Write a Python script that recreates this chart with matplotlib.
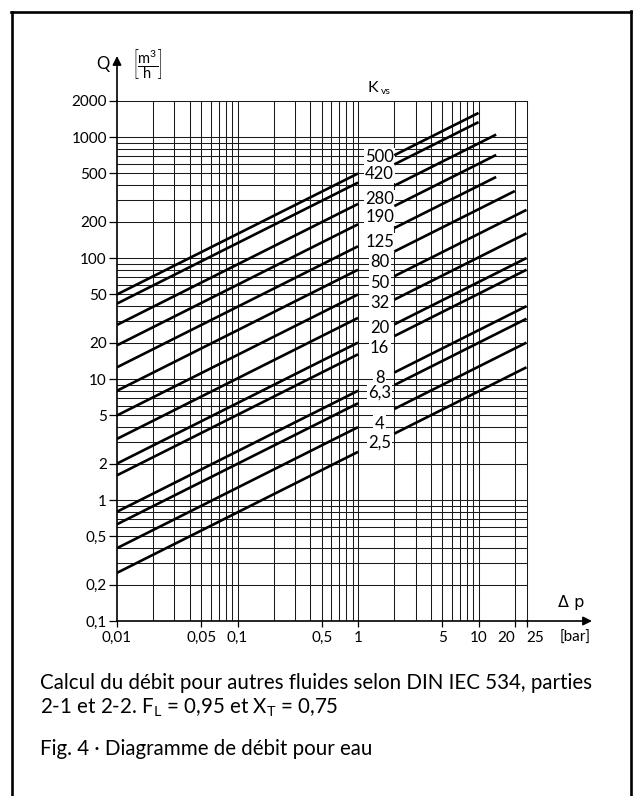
import numpy as np
import matplotlib
matplotlib.use('Agg')
import matplotlib.pyplot as plt
from matplotlib.lines import Line2D

plt.rcParams['font.family'] = ['Lato', 'DejaVu Sans']
plt.rcParams['mathtext.fontset'] = 'custom'
plt.rcParams['mathtext.rm'] = 'Lato'
plt.rcParams['mathtext.it'] = 'Lato'

# ---- data ----
kvs = [500, 420, 280, 190, 125, 80, 50, 32, 20, 16, 8, 6.3, 4, 2.5]
kvs_labels = ['500', '420', '280', '190', '125', '80', '50', '32', '20', '16',
              '8', '6,3', '4', '2,5']
left_dp = [0.01, 1.0]           # left segment range of every line
right_dp_start = 2.0            # right segment start
right_dp_end = [10, 10, 14, 14, 14, 20, 25, 25, 25, 25, 25, 25, 25, 25]
label_q = [684, 494, 307, 218, 135, 92.7, 62, 42.5, 26.4, 18, 10.2, 7.66, 4.25, 2.96]
label_dp = 1.51

xticks = [0.01, 0.05, 0.1, 0.5, 1, 5, 10, 20, 25]
xticklabels = ['0,01', '0,05', '0,1', '0,5', '1', '5', '10', '20', '25']
yticks = [0.1, 0.2, 0.5, 1, 2, 5, 10, 20, 50, 100, 200, 500, 1000, 2000]
yticklabels = ['0,1', '0,2', '0,5', '1', '2', '5', '10', '20', '50', '100',
               '200', '500', '1000', '2000']

caption1 = 'Calcul du débit pour autres fluides selon DIN IEC 534, parties'
caption2 = r'2-1 et 2-2. F$_\mathrm{L}$ = 0,95 et X$_\mathrm{T}$ = 0,75'
caption3 = 'Fig. 4 · Diagramme de débit pour eau'

# ---- figure ----
W, H = 636, 796
fig = plt.figure(figsize=(W / 100, H / 100), dpi=100)


def px(x, y):
    return x / W, 1 - y / H


AX_L, AX_R, AX_T, AX_B = 117, 526.5, 100.6, 621
ax = fig.add_axes([AX_L / W, 1 - AX_B / H, (AX_R - AX_L) / W, (AX_B - AX_T) / H])
ax.set_xscale('log')
ax.set_yscale('log')
ax.set_xlim(0.01, 25)
ax.set_ylim(0.1, 2000)

grid_kw = dict(color='#1a1a1a', lw=0.75, zorder=1)
for dec in [0.01, 0.1, 1, 10]:
    for m in range(1, 10):
        v = dec * m
        if 0.01 < v < 25:
            ax.axvline(v, **grid_kw)
for dec in [0.1, 1, 10, 100, 1000]:
    for m in range(1, 10):
        v = dec * m
        if 0.1 < v < 2000:
            ax.axhline(v, **grid_kw)

for s in ['top', 'right']:
    ax.spines[s].set_linewidth(0.75)
    ax.spines[s].set_color('#1a1a1a')
for s in ['left', 'bottom']:
    ax.spines[s].set_linewidth(1.2)
    ax.spines[s].set_zorder(5)

# Kvs lines
for k, e in zip(kvs, right_dp_end):
    xl = np.array(left_dp)
    ax.plot(xl, k * np.sqrt(xl), color='k', lw=1.9, solid_capstyle='butt', zorder=4)
    xr = np.array([right_dp_start, e])
    ax.plot(xr, k * np.sqrt(xr), color='k', lw=1.9, solid_capstyle='butt', zorder=4)

for lbl, q in zip(kvs_labels, label_q):
    ax.text(label_dp, q, lbl, ha='center', va='center', fontsize=12, zorder=3,
            bbox=dict(boxstyle='square,pad=0.08', fc='white', ec='none'))

ax.set_xticks(xticks)
ax.set_xticklabels(xticklabels)
ax.set_yticks(yticks)
ax.set_yticklabels(yticklabels)
ax.minorticks_off()
ax.tick_params(axis='y', direction='out', length=5.8, width=0.9, pad=1.5, labelsize=11)
ax.tick_params(axis='x', direction='out', length=4, width=0.9, pad=3, labelsize=11)
xtl = ax.get_xticklabels()
xtl[-2].set_horizontalalignment('right')
xtl[-2].set_x(19.5)
xtl[-1].set_horizontalalignment('left')

# axis arrows
ax.annotate('', xy=(0, (AX_B - 56) / (AX_B - AX_T)), xytext=(0, 1), xycoords='axes fraction',
            arrowprops=dict(arrowstyle='-|>', lw=1.2, color='k', mutation_scale=13,
                            shrinkA=0, shrinkB=0), annotation_clip=False)
ax.annotate('', xy=((592 - AX_L) / (AX_R - AX_L), 0), xytext=(1, 0), xycoords='axes fraction',
            arrowprops=dict(arrowstyle='-|>', lw=1.2, color='k', mutation_scale=13,
                            shrinkA=0, shrinkB=0), annotation_clip=False)

# axis titles
fig.text(*px(103, 64), 'Q', ha='center', va='center', fontsize=12)
fig.text(*px(147, 64), r'$\left[\dfrac{\mathrm{m}^3}{\mathrm{h}}\right]$', ha='center',
         va='center', fontsize=10.5)
fig.text(*px(373, 88), 'K', ha='center', va='center', fontsize=11.5)
fig.text(*px(386, 91), 'vs', ha='center', va='center', fontsize=7.5)
fig.text(*px(571, 602), 'Δ p', ha='center', va='center', fontsize=11.5,
         family=['DejaVu Sans'])
fig.text(*px(575, 638), '[bar]', ha='center', va='center', fontsize=11)

# caption
fig.text(*px(40, 683), caption1, ha='left', va='center', fontsize=14.8)
fig.text(*px(40, 708), caption2, ha='left', va='center', fontsize=14.8)
fig.text(*px(40, 749), caption3, ha='left', va='center', fontsize=14.8)

# frame
for (x0, y0, x1, y1) in [(12, 12, 12, 800), (11, 12, 631, 12), (631, 11, 631, 800)]:
    fig.add_artist(Line2D([x0 / W, x1 / W], [1 - y0 / H, 1 - y1 / H], color='k', lw=1.9,
                          transform=fig.transFigure))

fig.savefig('out.png', dpi=100)
